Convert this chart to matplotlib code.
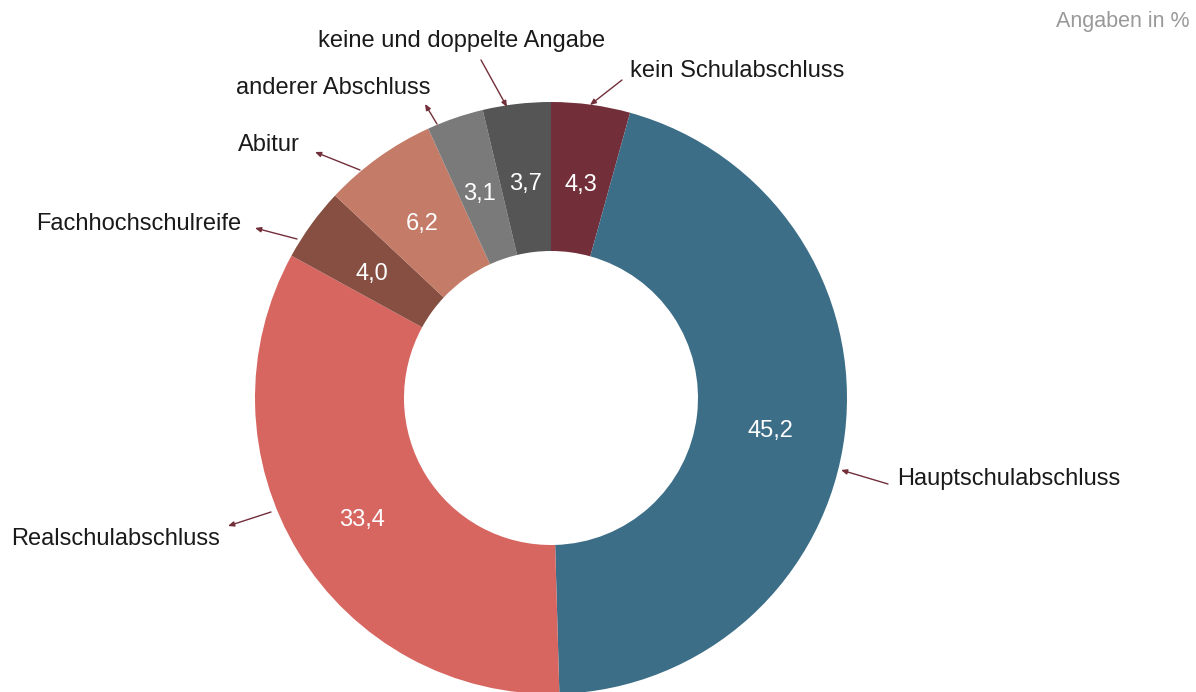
import matplotlib.pyplot as plt
import numpy as np

plt.rcParams['font.family'] = ['Liberation Sans', 'DejaVu Sans']

# Daten
labels = ['kein Schulabschluss', 'Hauptschulabschluss', 'Realschulabschluss',
          'Fachhochschulreife', 'Abitur', 'anderer Abschluss',
          'keine und doppelte Angabe']
values = [4.3, 45.2, 33.4, 4.0, 6.2, 3.1, 3.7]
value_text = ['4,3', '45,2', '33,4', '4,0', '6,2', '3,1', '3,7']
colors = ['#722f3a', '#3d6e87', '#d76661', '#874f42', '#c47b67', '#7a7a7a', '#555555']

H = 692


def py(y):
    # Pixelzeile (von oben) -> Datenkoordinate (von unten)
    return H - y


fig = plt.figure(figsize=(11.96, 6.92), dpi=100)
ax = fig.add_axes([0, 0, 1, 1])

cx, cy, r = 551, py(398), 296
width = 149
wedges, _ = ax.pie(values, colors=colors, startangle=90, counterclock=False,
                   center=(cx, cy), radius=r, frame=True,
                   wedgeprops=dict(width=width, linewidth=0))
ax.set_xlim(0, 1196)
ax.set_ylim(0, H)
ax.set_aspect('equal')
ax.axis('off')

# Werte im Ring
rm = r - width / 2
for w, t in zip(wedges, value_text):
    ang = np.deg2rad((w.theta1 + w.theta2) / 2)
    x = cx + rm * np.cos(ang)
    y = cy + rm * np.sin(ang) - 6
    ax.text(x, y, t, color='white', fontsize=17, ha='center', va='center')

# Beschriftungen mit Pfeilen: (text x, text y, ha, von, nach)
ann = [
    (630, 71, 'left', (622, 80), (590, 105)),
    (897, 479, 'left', (888, 484), (841, 470)),
    (220, 539, 'right', (271, 512), (228, 526)),
    (241, 224, 'right', (297, 239), (255, 228)),
    (300, 145, 'right', (360, 170), (315, 152)),
    (430, 88, 'right', (437, 124), (425, 104)),
    (462, 41, 'center', (481, 60), (507, 107)),
]
for lab, (tx, ty, ha, p0, p1) in zip(labels, ann):
    ax.text(tx, py(ty), lab, fontsize=17, ha=ha, va='center', color='#1a1a1a')
    ax.annotate('', xy=(p1[0], py(p1[1])), xytext=(p0[0], py(p0[1])),
                arrowprops=dict(arrowstyle='-|>,head_length=0.35,head_width=0.15',
                                color='#722f3a', lw=1, shrinkA=0, shrinkB=0))

ax.text(1190, py(22), 'Angaben in %', fontsize=15.5, ha='right', va='center', color='#999999')

plt.savefig('out.png', dpi=100)
